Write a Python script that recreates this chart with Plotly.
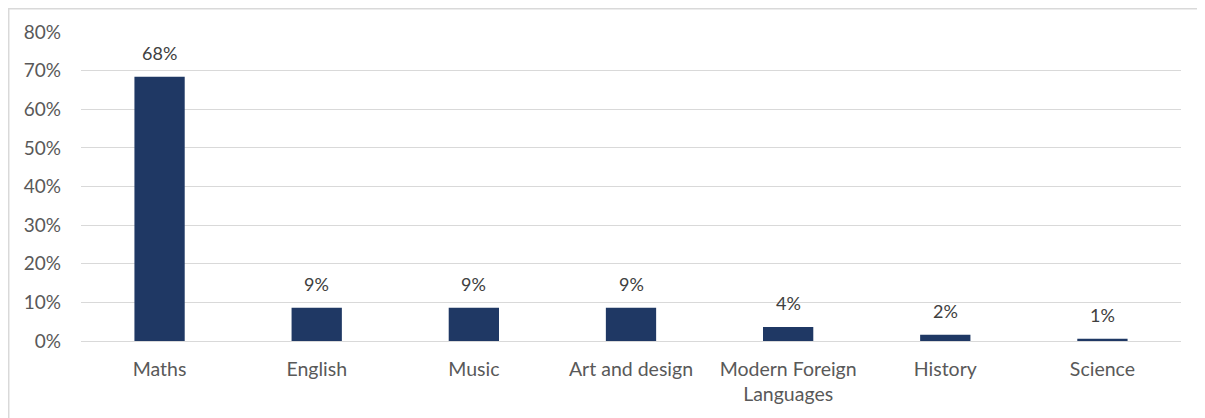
import plotly.graph_objects as go

categories = ["Maths", "English", "Music", "Art and design", "Modern Foreign<br>Languages", "History", "Science"]
values = [0.684, 0.086, 0.086, 0.086, 0.036, 0.016, 0.006]
labels = ["68%", "9%", "9%", "9%", "4%", "2%", "1%"]
y_ticks = [0, 0.1, 0.2, 0.3, 0.4, 0.5, 0.6, 0.7, 0.8]
y_ticktext = ["0%", "10%", "20%", "30%", "40%", "50%", "60%", "70%", "80%"]

FONT = "Lato"

fig = go.Figure()
fig.add_trace(go.Bar(
    x=categories, y=values,
    marker=dict(color="#1F3864", line=dict(width=0)),
    hoverinfo="skip",
))

for c, v, t in zip(categories, values, labels):
    fig.add_annotation(x=c, y=v, text=t, showarrow=False, yanchor="bottom",
                       yshift=11, font=dict(family=FONT, size=18, color="#404040"))

# chart border (top and left visible)
fig.add_shape(type="rect", xref="paper", yref="paper",
              x0=-0.0657, x1=1.05, y0=-0.4, y1=1.0752,
              line=dict(color="#D9D9D9", width=1.5), layer="below")

fig.update_layout(
    width=1205, height=418,
    margin=dict(l=73, r=32, t=24, b=85),
    paper_bgcolor="white", plot_bgcolor="white",
    bargap=0.68, showlegend=False,
    font=dict(family=FONT, size=19, color="#595959"),
    xaxis=dict(showgrid=False, showline=False, ticks="", zeroline=False,
               tickfont=dict(family=FONT, size=19.5, color="#595959"),
               ticklabelstandoff=14),
    yaxis=dict(range=[0, 0.8], tickvals=y_ticks, ticktext=y_ticktext,
               showgrid=True, gridcolor="#D9D9D9", gridwidth=1.3,
               zeroline=True, zerolinecolor="#D9D9D9", zerolinewidth=1.3,
               showline=False, ticks="",
               tickfont=dict(family=FONT, size=19, color="#595959"),
               ticklabelstandoff=19),
)

fig.write_html("out.html")
